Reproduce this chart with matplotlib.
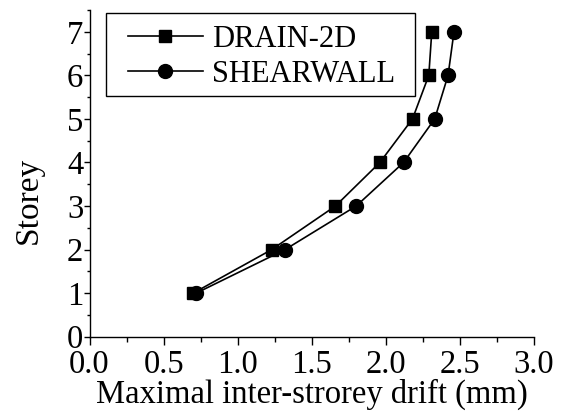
import matplotlib
matplotlib.use("Agg")
import matplotlib.pyplot as plt
from matplotlib.ticker import MultipleLocator
from matplotlib.patches import Rectangle

plt.rcParams['font.family'] = ['Liberation Serif', 'DejaVu Serif']

storey = [1, 2, 3, 4, 5, 6, 7]
drain2d = [0.70, 1.23, 1.66, 1.96, 2.18, 2.29, 2.31]
shearwall = [0.72, 1.32, 1.80, 2.12, 2.33, 2.42, 2.46]
xticks = [0.0, 0.5, 1.0, 1.5, 2.0, 2.5, 3.0]
xticklabels = ["0.0", "0.5", "1.0", "1.5", "2.0", "2.5", "3.0"]
yticks = [0, 1, 2, 3, 4, 5, 6, 7]

W, H = 565, 418
ax_l, ax_r, ax_t, ax_b = 89.5, 534.0, 10.0, 336.7
aw, ah = ax_r - ax_l, ax_b - ax_t

fig = plt.figure(figsize=(W/100, H/100), dpi=100)
ax = fig.add_axes([ax_l/W, 1-ax_b/H, aw/W, ah/H])

ax.plot(drain2d, storey, color='black', lw=1.2, marker='s', ms=9, label='DRAIN-2D')
ax.plot(shearwall, storey, color='black', lw=1.2, marker='o', ms=10, label='SHEARWALL')

ax.set_xlim(0, 3.0)
ax.set_ylim(0, 7.5)
ax.set_xticks(xticks)
ax.set_xticklabels(xticklabels)
ax.set_yticks(yticks)
ax.xaxis.set_minor_locator(MultipleLocator(0.25))
ax.yaxis.set_minor_locator(MultipleLocator(0.5))
ax.spines['top'].set_visible(False)
ax.spines['right'].set_visible(False)
for s in ['left', 'bottom']:
    ax.spines[s].set_linewidth(1.0)
ax.tick_params(axis='x', which='major', direction='out', length=5.5, width=1.0, labelsize=23.5, pad=3.5)
ax.tick_params(axis='x', which='minor', direction='out', length=3.5, width=1.0)
ax.tick_params(axis='y', which='major', direction='out', length=4, width=1.0, labelsize=23.5, pad=0.5)
ax.tick_params(axis='y', which='minor', direction='out', length=2.5, width=1.0)

ax.set_xlabel('Maximal inter-strorey drift (mm)', fontsize=23.5)
ax.xaxis.set_label_coords(0.5, 1 - (378.5 - ax_t)/ah)
ax.set_ylabel('Storey', fontsize=24)
ax.yaxis.set_label_coords((44 - ax_l)/aw, 1 - (200 - ax_t)/ah)

# legend frame
ax.add_patch(Rectangle((106/W, 1-96/H), 309/W, 83/H, transform=fig.transFigure,
                       facecolor='none', edgecolor='black', lw=1.0, clip_on=False, zorder=5))
leg = ax.legend(loc='upper left', bbox_to_anchor=((128 - ax_l)/aw, 1 - (25 - ax_t)/ah),
                fontsize=22, frameon=False, handlelength=2.45, handletextpad=0.29,
                borderpad=0, labelspacing=0.2, borderaxespad=0)

fig.savefig('out.png', dpi=100)
